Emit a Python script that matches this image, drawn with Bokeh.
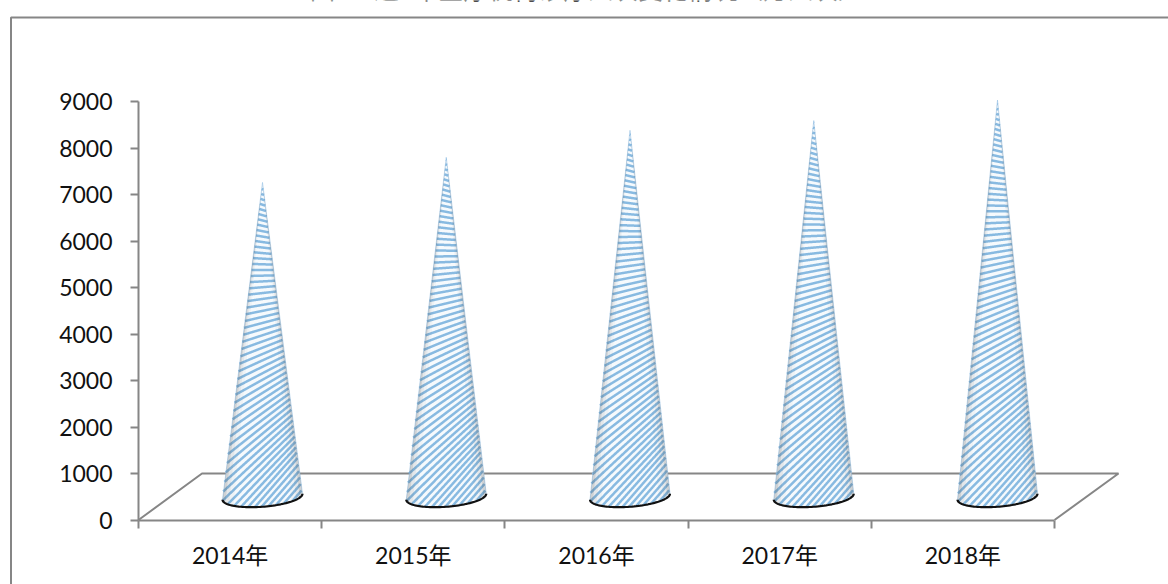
import numpy as np
from bokeh.plotting import figure
from bokeh.embed import file_html
from bokeh.resources import INLINE
from bokeh.core.properties import value
from bokeh.models import FixedTicker, Range1d

years = ["2014年", "2015年", "2016年", "2017年", "2018年"]
values = [6760, 7300, 7880, 8090, 8530]
y_ticks = [0, 1000, 2000, 3000, 4000, 5000, 6000, 7000, 8000, 9000]
title_text = "图5\u3000近5年医疗机构诊疗人次变化情况（万人次）"

W, H = 1168, 584
X0, XU = 138.0, 183.2      # pixel of category 0, pixels per category
Y0, YU = 519.5, 0.0465     # pixel of value 0, pixels per unit
AXIS = "#868686"
STRIPE = "#82b6df"

def fx(px):
    return (np.asarray(px, dtype=float) - X0) / XU

def fy(py):
    return (Y0 - np.asarray(py, dtype=float)) / YU

p = figure(width=W, height=H, output_backend="svg", toolbar_location=None,
           x_range=Range1d(float(fx(0)), float(fx(W))),
           y_range=Range1d(float(fy(H)), float(fy(0))),
           min_border=0, min_border_left=0, min_border_right=0,
           min_border_top=0, min_border_bottom=0)
p.grid.visible = False
p.outline_line_color = None
p.background_fill_color = "white"

# axes
ya = p.yaxis[0]
ya.fixed_location = 0
ya.bounds = (0, 9000)
ya.ticker = FixedTicker(ticks=y_ticks)
ya.minor_tick_line_color = None
ya.major_tick_in = 0
ya.major_tick_out = 8
ya.axis_line_color = AXIS
ya.axis_line_width = 2
ya.major_tick_line_color = AXIS
ya.major_tick_line_width = 2
ya.major_label_text_font = "Lato, Noto Sans CJK SC"
ya.major_label_text_font_size = "23px"
ya.major_label_text_color = "#111111"
ya.major_label_standoff = 18

xa = p.xaxis[0]
xa.fixed_location = 0
xa.bounds = (0, 5)
xa.ticker = FixedTicker(ticks=[i + 0.5 for i in range(5)], minor_ticks=list(range(6)))
xa.major_label_overrides = {i + 0.5: years[i] for i in range(5)}
xa.major_tick_line_color = None
xa.major_tick_in = 0
xa.major_tick_out = 0
xa.minor_tick_in = 0
xa.minor_tick_out = 8
xa.minor_tick_line_color = AXIS
xa.minor_tick_line_width = 2
xa.axis_line_color = AXIS
xa.axis_line_width = 2
xa.major_label_text_font = "Lato, Noto Sans CJK SC"
xa.major_label_text_font_size = "23px"
xa.major_label_text_color = "#111111"
xa.major_label_standoff = 13

# outer frame, cut by the picture on the right and at the bottom
p.line(fx([10.5, 10.5, W]), fy([H, 17, 17]), line_color=AXIS, line_width=2)

# title, cut by the top of the picture
p.text(x=[float(fx(586))], y=[float(fy(-13))], text=[title_text],
       text_font=value("Noto Sans CJK SC"), text_font_size="25px",
       text_align="center", text_baseline="middle", text_color="#222222")

# floor
p.line(fx([X0 + 5 * XU, 1118, 201.5, X0]), fy([Y0, 473, 473, Y0]),
       line_color=AXIS, line_width=2)

# cones
HW = 40.0
BASE_B = 10.0
TILT = 0.075
DEPTH_VALUE = 500
CX0, CXS = 262.0, 183.75
base_y = Y0 - DEPTH_VALUE * YU

def arc_y(x):
    return base_y + BASE_B * np.sqrt(np.clip(1 - (x / HW) ** 2, 0, 1)) - TILT * x

arc_x = HW * np.cos(np.linspace(0, np.pi, 61))

for i, v in enumerate(values):
    cx = CX0 + i * CXS
    top = base_y - v * YU
    hgt = base_y - top
    px_x = np.concatenate([[0.0], arc_x])
    px_y = np.concatenate([[top], arc_y(arc_x)])
    p.patch(fx(cx + px_x), fy(px_y), fill_color="#f6fafd", line_color=STRIPE,
            line_width=0.8, line_alpha=0.6)

    # stripes
    grid = np.arange(-HW, HW + 0.25, 0.25)
    xs, ys = [], []
    yk = base_y + 46.0
    while yk > top - 12:
        h = min(max((base_y - yk) / hgt, 0.0), 1.0)
        s = 1.15 - 1.6 * h
        line = yk - s * grid
        inside = (np.abs(grid) <= HW * np.clip((line - top) / hgt, 0, 1.2)) & (line <= arc_y(grid))
        idx = np.where(inside)[0]
        if len(idx) > 1:
            xs.append(fx(cx + grid[idx]))
            ys.append(fy(line[idx]))
        yk -= 5.0 + 2.4 * (1 - h)
    p.multi_line(xs, ys, line_color=STRIPE, line_width=2.5, line_alpha=0.95)

    # edge shading of the round body
    for f0, f1, a in [(0.93, 1.0, 0.22), (0.84, 0.93, 0.10), (0.72, 0.84, 0.04)]:
        for sign in (-1, 1):
            ax = sign * HW * np.linspace(f0, f1, 12)
            sx = np.concatenate([[0.0], ax])
            sy = np.concatenate([[top], arc_y(ax)])
            p.patch(fx(cx + sx), fy(sy), fill_color="#444444", fill_alpha=a, line_color=None)

    # dark front rim
    p.line(fx(cx + arc_x), fy(arc_y(arc_x)), line_color="#111111", line_width=2.2)

open("out.html", "w").write(file_html(p, INLINE))
